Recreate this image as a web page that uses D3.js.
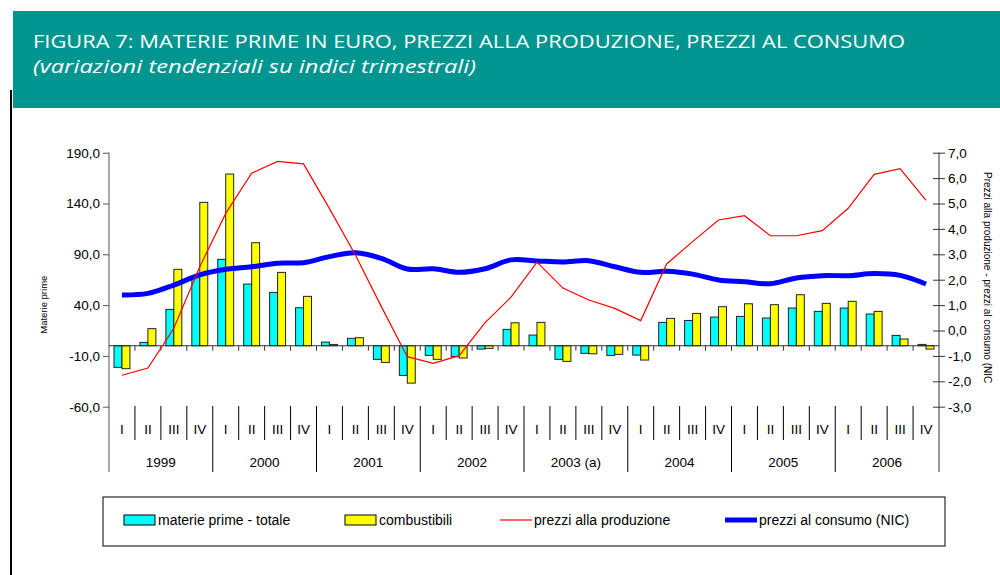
<!DOCTYPE html>
<html>
<head>
<meta charset="utf-8">
<script src="https://cdn.jsdelivr.net/npm/d3@7"></script>
<style>
  body { margin: 0; background: #fff; }
  svg text { font-family: "Liberation Sans", Arial, sans-serif; }
</style>
</head>
<body>
<div id="chart"></div>
<script>
var width = 1000,
    height = 575;

// quarter and year labels
var quarters = ["I", "II", "III", "IV"];
var years = ["1999", "2000", "2001", "2002", "2003 (a)", "2004", "2005", "2006"];

// materie prime - totale (left axis)
var materiePrime = [-21.3, 3.3, 35.8, 68.3, 85.0, 60.7, 52.5, 37.4,
  3.6, 7.3, -13.4, -29.2, -9.5, -10.8, -3.3, 16.1,
  10.5, -13.4, -7.5, -9.5, -9.2, 23.0, 24.9, 28.2,
  28.9, 27.3, 37.1, 33.8, 37.1, 31.2, 10.2, 1.3];

// combustibili (left axis)
var combustibili = [-22.6, 16.8, 75.2, 141.1, 169.0, 101.4, 72.2, 48.6,
  1.3, 7.9, -16.4, -36.8, -13.4, -12.1, -2.6, 22.6,
  23.0, -15.4, -7.9, -8.5, -14.1, 26.9, 31.8, 38.4,
  41.3, 40.4, 50.2, 41.7, 43.7, 33.8, 6.6, -3.3];

// prezzi alla produzione (right axis)
var prezziProduzione = [-1.76, -1.48, 0.09, 2.51, 4.61, 6.19, 6.66, 6.56,
  4.8, 2.97, 0.94, -1.03, -1.29, -0.99, 0.31, 1.31,
  2.69, 1.67, 1.20, 0.87, 0.39, 2.62, 3.50, 4.35,
  4.52, 3.73, 3.73, 3.93, 4.81, 6.15, 6.37, 5.12];

// prezzi al consumo (NIC) (right axis)
var prezziConsumo = [1.40, 1.46, 1.79, 2.19, 2.41, 2.51, 2.65, 2.67,
  2.91, 3.06, 2.84, 2.42, 2.43, 2.29, 2.43, 2.78,
  2.74, 2.70, 2.75, 2.51, 2.29, 2.33, 2.22, 1.99,
  1.92, 1.84, 2.07, 2.16, 2.16, 2.24, 2.17, 1.83];

var leftTicks = [-60, -10, 40, 90, 140, 190];
var rightTicks = [-3, -2, -1, 0, 1, 2, 3, 4, 5, 6, 7];

var it = d3.formatLocale({decimal: ",", thousands: ".", grouping: [3], currency: ["", "€"], minus: "-"});
var fmt = it.format(".1f");

var svg = d3.select("#chart").append("svg")
    .attr("width", width)
    .attr("height", height);

// header band
svg.append("rect")
    .attr("x", 13).attr("y", 11)
    .attr("width", width - 13).attr("height", 97)
    .attr("fill", "#00958f");

svg.append("text")
    .attr("x", 33).attr("y", 48)
    .attr("fill", "#fff")
    .style("font-family", "'Open Sans', sans-serif")
    .style("font-size", "18px")
    .attr("textLength", 872).attr("lengthAdjust", "spacingAndGlyphs")
    .text("FIGURA 7: MATERIE PRIME IN EURO, PREZZI ALLA PRODUZIONE, PREZZI AL CONSUMO");

svg.append("text")
    .attr("x", 33).attr("y", 73)
    .attr("fill", "#fff")
    .style("font-family", "'Open Sans', sans-serif")
    .style("font-size", "18px")
    .style("font-style", "italic")
    .attr("textLength", 443).attr("lengthAdjust", "spacingAndGlyphs")
    .text("(variazioni tendenziali su indici trimestrali)");

// left border line
svg.append("line")
    .attr("x1", 11).attr("x2", 11)
    .attr("y1", 90).attr("y2", height)
    .attr("stroke", "#000").attr("stroke-width", 2);

var x0 = 109, x1 = 939, yTop = 152.7, yBot = 406.7, yEnd = 472;

var idx = d3.range(materiePrime.length);

var x = d3.scaleBand()
    .domain(idx)
    .range([x0, x1]);

var xInner = d3.scaleBand()
    .domain(["mp", "comb"])
    .range([5, x.bandwidth() - 5]);

var yL = d3.scaleLinear().domain([-60, 190]).range([yBot, yTop]);
var yR = d3.scaleLinear().domain([-3, 7]).range([yBot, yTop]);

// left axis
var gL = svg.append("g")
    .attr("transform", "translate(" + x0 + ",0)")
    .call(d3.axisLeft(yL).tickValues(leftTicks).tickSize(6).tickPadding(3).tickFormat(fmt));
gL.select(".domain").remove();
gL.selectAll("text").style("font-size", "13.5px").style("font-family", "'Liberation Sans', Arial, sans-serif");
gL.selectAll(".tick line").attr("stroke", "#555");

svg.append("line")
    .attr("x1", x0).attr("x2", x0).attr("y1", yTop).attr("y2", yEnd)
    .attr("stroke", "#555");

// right axis
var gR = svg.append("g")
    .attr("transform", "translate(" + x1 + ",0)")
    .call(d3.axisRight(yR).tickValues(rightTicks).tickSize(6).tickPadding(3).tickFormat(fmt));
gR.select(".domain").remove();
gR.selectAll(".tick line").attr("x1", -6).attr("stroke", "#333");
gR.selectAll("text").style("font-size", "13.5px").style("font-family", "'Liberation Sans', Arial, sans-serif");

svg.append("line")
    .attr("x1", x1).attr("x2", x1).attr("y1", yTop).attr("y2", yEnd)
    .attr("stroke", "#333");

// axis titles
svg.append("text")
    .attr("transform", "translate(47," + ((yTop + yBot) / 2 + 25) + ") rotate(-90)")
    .attr("text-anchor", "middle")
    .style("font-size", "9.5px")
    .text("Materie prime");

svg.append("text")
    .attr("transform", "translate(984,172) rotate(90)")
    .style("font-size", "10px")
    .text("Prezzi alla produzione - prezzi al consumo (NIC");

// bars
var bars = svg.append("g").attr("class", "bars");

function drawBars(values, key, color) {
  bars.selectAll("rect." + key)
      .data(values)
    .enter().append("rect")
      .attr("class", key)
      .attr("x", function(d, i) { return x(i) + xInner(key); })
      .attr("width", xInner.bandwidth())
      .attr("y", function(d) { return yL(Math.max(0, d)); })
      .attr("height", function(d) { return Math.abs(yL(d) - yL(0)); })
      .attr("fill", color)
      .attr("stroke", "#222")
      .attr("stroke-width", 1);
}
drawBars(materiePrime, "mp", "#00ffff");
drawBars(combustibili, "comb", "#ffff00");

// zero line with small ticks
svg.append("line")
    .attr("x1", x0).attr("x2", x1)
    .attr("y1", yL(0)).attr("y2", yL(0))
    .attr("stroke", "#333");

svg.append("g")
  .selectAll("line")
    .data(idx.slice(1))
  .enter().append("line")
    .attr("x1", function(i) { return x(i); })
    .attr("x2", function(i) { return x(i); })
    .attr("y1", yL(0)).attr("y2", yL(0) + 5)
    .attr("stroke", "#333");

// lines
var lineCons = d3.line()
    .x(function(d, i) { return x(i) + x.bandwidth() / 2; })
    .y(function(d) { return yR(d); })
    .curve(d3.curveCatmullRom);

var lineProd = d3.line()
    .x(function(d, i) { return x(i) + x.bandwidth() / 2; })
    .y(function(d) { return yR(d); });

svg.append("path")
    .datum(prezziConsumo)
    .attr("d", lineCons)
    .attr("fill", "none")
    .attr("stroke", "#0000ff")
    .attr("stroke-width", 5);

svg.append("path")
    .datum(prezziProduzione)
    .attr("d", lineProd)
    .attr("fill", "none")
    .attr("stroke", "#ff0000")
    .attr("stroke-width", 1.2);

// category axis
var cat = svg.append("g");

cat.selectAll("line.q")
    .data(idx.slice(1))
  .enter().append("line")
    .attr("x1", function(i) { return x(i); })
    .attr("x2", function(i) { return x(i); })
    .attr("y1", 406)
    .attr("y2", function(i) { return i % 4 === 0 ? yEnd : 440; })
    .attr("stroke", "#000");

cat.selectAll("text.q")
    .data(idx)
  .enter().append("text")
    .attr("x", function(i) { return x(i) + x.bandwidth() / 2; })
    .attr("y", 434)
    .attr("text-anchor", "middle")
    .style("font-size", "13.5px")
    .text(function(i) { return quarters[i % 4]; });

cat.selectAll("text.y")
    .data(years)
  .enter().append("text")
    .attr("x", function(d, j) { return x(j * 4) + 2 * x.bandwidth(); })
    .attr("y", 467)
    .attr("text-anchor", "middle")
    .style("font-size", "13.5px")
    .text(function(d) { return d; });

// legend
var legend = svg.append("g");
legend.append("rect")
    .attr("x", 103).attr("y", 497)
    .attr("width", 842).attr("height", 49)
    .attr("fill", "#fff").attr("stroke", "#000");

var items = [
  {label: "materie prime - totale", type: "rect", color: "#00ffff", x: 124},
  {label: "combustibili", type: "rect", color: "#ffff00", x: 345},
  {label: "prezzi alla produzione", type: "line", color: "#ff0000", w: 1.2, x: 500},
  {label: "prezzi al consumo (NIC)", type: "line", color: "#0000ff", w: 5, x: 725}
];

items.forEach(function(d) {
  if (d.type === "rect") {
    legend.append("rect")
        .attr("x", d.x).attr("y", 515)
        .attr("width", 31).attr("height", 10)
        .attr("fill", d.color).attr("stroke", "#000");
  } else {
    legend.append("line")
        .attr("x1", d.x).attr("x2", d.x + 32)
        .attr("y1", 520).attr("y2", 520)
        .attr("stroke", d.color).attr("stroke-width", d.w);
  }
  legend.append("text")
      .attr("x", d.x + 34).attr("y", 525)
      .style("font-size", "14px")
      .text(d.label);
});
</script>
</body>
</html>
